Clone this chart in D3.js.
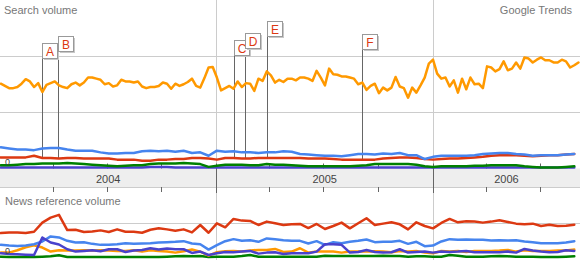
<!DOCTYPE html>
<html>
<head>
<meta charset="utf-8">
<script src="https://cdn.jsdelivr.net/npm/d3@7"></script>
<style>
body { margin: 0; background: #fff; }
svg { display: block; font-family: Arial, "Liberation Sans", sans-serif; }
</style>
</head>
<body>
<div></div>
<script>
// weekly points start on this Sunday; secondary series are read every 2 weeks
var weekStart = "2004-01-04";

var searchOrange = [
  1.51,1.47,1.43,1.43,1.45,1.51,1.59,1.55,1.45,1.52,
  1.36,1.49,1.52,1.55,1.48,1.45,1.43,1.50,1.53,1.48,
  1.53,1.62,1.62,1.60,1.58,1.50,1.52,1.46,1.48,1.58,
  1.55,1.55,1.53,1.55,1.46,1.43,1.45,1.45,1.47,1.53,
  1.51,1.42,1.51,1.47,1.50,1.54,1.60,1.47,1.44,1.61,
  1.80,1.81,1.62,1.39,1.43,1.47,1.42,1.55,1.45,1.52,
  1.51,1.38,1.60,1.56,1.73,1.66,1.53,1.58,1.54,1.60,
  1.60,1.57,1.62,1.62,1.60,1.56,1.74,1.62,1.48,1.78,
  1.68,1.67,1.64,1.64,1.62,1.60,1.50,1.53,1.40,1.47,
  1.51,1.34,1.44,1.39,1.44,1.63,1.46,1.43,1.26,1.44,
  1.35,1.48,1.62,1.87,1.94,1.69,1.60,1.62,1.46,1.57,
  1.35,1.60,1.41,1.62,1.50,1.51,1.43,1.82,1.80,1.73,
  1.77,1.91,1.75,1.78,1.89,1.78,1.98,1.96,1.89,1.94,
  1.98,1.93,1.93,1.89,1.89,1.94,1.91,1.80,1.84,1.89
];
var searchBlue = [
  0.37,0.35,0.33,0.33,0.32,0.35,0.36,0.36,0.33,0.31,
  0.31,0.31,0.28,0.26,0.26,0.27,0.27,0.30,0.31,0.30,
  0.31,0.29,0.31,0.27,0.28,0.22,0.31,0.29,0.30,0.28,
  0.28,0.27,0.28,0.28,0.30,0.29,0.25,0.24,0.23,0.22,
  0.22,0.21,0.23,0.25,0.25,0.24,0.26,0.25,0.27,0.23,
  0.23,0.16,0.20,0.22,0.22,0.22,0.22,0.23,0.25,0.26,
  0.27,0.27,0.25,0.24,0.22,0.23,0.23,0.23,0.24,0.25
];
var searchRed = [
  0.19,0.19,0.19,0.19,0.22,0.18,0.18,0.17,0.18,0.18,
  0.17,0.17,0.17,0.17,0.15,0.15,0.15,0.13,0.13,0.15,
  0.15,0.16,0.16,0.18,0.18,0.17,0.15,0.18,0.18,0.17,
  0.17,0.18,0.18,0.18,0.18,0.18,0.18,0.17,0.17,0.17,
  0.16,0.15,0.15,0.15,0.15,0.15,0.17,0.18,0.19,0.19,
  0.18,0.16,0.15,0.16,0.17,0.17,0.18,0.19,0.20,0.22,
  0.23,0.23,0.23,0.22,0.21,0.22,0.23,0.23,0.24,0.25
];
var searchGreen = [
  0.05,0.05,0.06,0.07,0.07,0.08,0.08,0.08,0.09,0.08,
  0.07,0.06,0.05,0.04,0.03,0.04,0.05,0.05,0.07,0.08,
  0.08,0.08,0.09,0.08,0.07,0.02,0.04,0.06,0.06,0.06,
  0.05,0.05,0.07,0.06,0.06,0.05,0.04,0.03,0.03,0.03,
  0.03,0.03,0.03,0.04,0.05,0.07,0.07,0.07,0.07,0.07,
  0.06,0.03,0.02,0.03,0.03,0.03,0.03,0.04,0.04,0.05,
  0.05,0.05,0.05,0.03,0.02,0.01,0.01,0.01,0.02,0.03
];
var searchPurple = [
  0.01,0.01,0.01,0.01,0.01,0.01,0.01,0.01,0.01,0.01,
  0.01,0.01,0.01,0.01,0.01,0.01,0.01,0.01,0.02,0.02,
  0.02,0.01,0.01,0.01,0.01,0.01,0.01,0.01,0.01,0.01,
  0.01,0.01,0.01,0.01,0.01,0.01,0.01,0.01,0.01,0.01,
  0.01,0.01,0.01,0.01,0.01,0.01,0.01,0.01,0.01,0.01,
  0.01,0.01,0.01,0.01,0.01,0.01,0.01,0.01,0.01,0.01,
  0.01,0.01,0.01,0.01,0.01,0.01,0.01,0.01,0.01,0.01
];

var newsRed = [
  0.71,0.73,0.73,0.71,0.75,1.02,1.17,1.25,0.80,0.81,
  0.74,0.76,0.79,0.74,0.82,0.75,0.75,0.72,0.81,0.85,
  0.82,0.78,0.82,0.73,0.95,0.72,1.00,0.88,1.13,1.08,
  1.07,0.95,1.05,1.00,0.95,0.97,0.98,0.86,0.98,0.83,
  0.92,1.02,0.85,1.00,1.15,0.95,0.99,1.03,0.97,0.82,
  1.03,0.92,0.85,1.01,1.13,1.03,1.06,1.05,1.02,1.05,
  1.09,1.04,0.99,0.97,0.99,0.92,0.96,0.92,0.93,0.96
];
var newsBlue = [
  0.36,0.34,0.33,0.34,0.38,0.46,0.61,0.58,0.48,0.43,
  0.44,0.39,0.36,0.36,0.38,0.41,0.39,0.40,0.41,0.43,
  0.44,0.45,0.47,0.40,0.38,0.22,0.35,0.47,0.53,0.48,
  0.50,0.45,0.55,0.53,0.50,0.48,0.48,0.40,0.47,0.36,
  0.44,0.41,0.45,0.48,0.52,0.44,0.45,0.45,0.48,0.39,
  0.45,0.32,0.34,0.46,0.53,0.51,0.52,0.51,0.51,0.49,
  0.50,0.49,0.50,0.46,0.44,0.41,0.41,0.41,0.43,0.47
];
var newsOrange = [
  0.13,0.13,0.20,0.29,0.35,0.28,0.16,0.20,0.19,0.19,
  0.20,0.19,0.20,0.19,0.18,0.18,0.20,0.16,0.20,0.18,
  0.16,0.13,0.17,0.22,0.16,0.04,0.14,0.17,0.18,0.16,
  0.19,0.21,0.21,0.24,0.15,0.16,0.26,0.13,0.16,0.16,
  0.16,0.13,0.16,0.16,0.16,0.17,0.16,0.14,0.18,0.16,
  0.18,0.13,0.11,0.18,0.16,0.18,0.15,0.18,0.18,0.18,
  0.19,0.21,0.16,0.20,0.18,0.18,0.18,0.19,0.19,0.22
];
var newsPurple = [
  0.11,0.09,0.08,0.07,0.06,0.58,0.43,0.37,0.23,0.16,
  0.18,0.20,0.17,0.23,0.23,0.15,0.19,0.21,0.26,0.22,
  0.25,0.23,0.23,0.12,0.16,0.06,0.11,0.15,0.14,0.16,
  0.18,0.10,0.13,0.14,0.09,0.11,0.11,0.11,0.16,0.38,
  0.38,0.36,0.13,0.15,0.21,0.15,0.13,0.14,0.23,0.13,
  0.15,0.16,0.13,0.16,0.15,0.16,0.18,0.14,0.14,0.14,
  0.14,0.16,0.13,0.24,0.19,0.16,0.14,0.15,0.20,0.18
];
var newsGreen = [
  0.01,0.00,0.00,0.00,0.00,0.01,0.02,0.05,0.00,0.00,
  0.00,0.00,0.00,0.00,0.00,0.00,0.00,0.00,0.00,0.00,
  0.01,0.02,0.03,0.02,0.03,0.00,0.01,0.01,0.01,0.03,
  0.06,0.01,0.01,0.01,0.01,0.01,0.01,0.01,0.01,0.04,
  0.03,0.03,0.03,0.03,0.03,0.03,0.04,0.03,0.03,0.01,
  0.02,0.02,0.01,0.01,0.06,0.04,0.01,0.01,0.01,0.02,
  0.03,0.02,0.01,0.01,0.01,0.00,0.00,0.00,0.01,0.02
];

var flagLetters = ["A", "B", "C", "D", "E", "F"];
var flagDates = ["2004-03-14", "2004-04-10", "2005-01-31", "2005-02-20", "2005-03-28", "2005-09-05"];
var flagLevels = [2.23, 2.36, 2.29, 2.41, 2.63, 2.40];

var colors = { blue: "#4684ee", red: "#dc3912", orange: "#ff9900", green: "#008000", purple: "#4942cc" };

var width = 580, height = 260;
var bandTop = 168.5, bandBottom = 187;

var parse = d3.timeParse("%Y-%m-%d");
var start = parse(weekStart);
var weekly = searchOrange.map(function(d, i) { return d3.timeWeek.offset(start, i); });
var biweekly = searchBlue.map(function(d, i) { return d3.timeWeek.offset(start, 2 * i); });

var x = d3.scaleTime()
    .domain([parse("2004-01-01"), parse("2006-01-01")])
    .range([-1, 433]);
var yTop = d3.scaleLinear().domain([0, 3]).range([168, 0.5]);
var yNews = d3.scaleLinear().domain([0, 2]).range([257, 189.6]);

var crisp = function(v) { return Math.floor(v) + 0.5; };

var svg = d3.select("div").append("svg")
    .attr("width", width)
    .attr("height", height);

svg.append("rect").attr("width", width).attr("height", height).attr("fill", "#fff");

// horizontal grid
svg.selectAll(".gtop").data([1, 2]).enter().append("line")
    .attr("x1", 0).attr("x2", width)
    .attr("y1", function(d) { return crisp(yTop(d)); })
    .attr("y2", function(d) { return crisp(yTop(d)); })
    .attr("stroke", "#cccccc");
svg.selectAll(".gnews").data([1]).enter().append("line")
    .attr("x1", 0).attr("x2", width)
    .attr("y1", function(d) { return crisp(yNews(d)); })
    .attr("y2", function(d) { return crisp(yNews(d)); })
    .attr("stroke", "#cccccc");

// date band
svg.append("rect")
    .attr("x", 0).attr("y", bandTop)
    .attr("width", width).attr("height", bandBottom - bandTop)
    .attr("fill", "#eeeeee");
svg.append("line")
    .attr("x1", 0).attr("x2", width)
    .attr("y1", bandBottom + 0.5).attr("y2", bandBottom + 0.5)
    .attr("stroke", "#cccccc");

var years = d3.timeYear.range(parse("2004-01-01"), parse("2007-01-01"));
var quarters = d3.timeMonth.every(3).range(parse("2004-01-01"), parse("2006-12-31"))
    .filter(function(d) { return x(d) >= 0 && x(d) <= width; });

svg.selectAll(".yline").data(years.filter(function(d) { return x(d) > 0; })).enter().append("line")
    .attr("x1", function(d) { return crisp(x(d)); })
    .attr("x2", function(d) { return crisp(x(d)); })
    .attr("y1", 0).attr("y2", height)
    .attr("stroke", "#cccccc");

quarters.forEach(function(q) {
  var xq = crisp(x(q));
  if (q.getMonth() === 0) {
    svg.append("line").attr("x1", xq).attr("x2", xq)
        .attr("y1", bandTop - 5).attr("y2", bandBottom + 6)
        .attr("stroke", "#666");
  } else {
    svg.append("line").attr("x1", xq).attr("x2", xq)
        .attr("y1", bandTop - 5).attr("y2", bandTop)
        .attr("stroke", "#666");
    svg.append("line").attr("x1", xq).attr("x2", xq)
        .attr("y1", bandBottom).attr("y2", bandBottom + 5)
        .attr("stroke", "#666");
  }
});

svg.selectAll(".ylabel").data(years).enter().append("text")
    .attr("x", function(d) {
      var x0 = Math.max(0, x(d));
      var x1 = Math.min(width, x(d3.timeYear.offset(d, 1)));
      return (x0 + x1) / 2;
    })
    .attr("y", 183)
    .attr("text-anchor", "middle")
    .attr("font-size", "11px")
    .attr("fill", "#444")
    .text(function(d) { return d3.timeFormat("%Y")(d); });

// flags
var bisect = d3.bisector(function(d) { return d; }).left;
var flags = flagLetters.map(function(letter, i) {
  var date = parse(flagDates[i]);
  var k = Math.min(biweekly.length - 1, bisect(biweekly, date));
  return { letter: letter, date: date, level: flagLevels[i], end: searchRed[k] };
});

svg.selectAll(".pole").data(flags).enter().append("line")
    .attr("x1", function(d) { return crisp(x(d.date)); })
    .attr("x2", function(d) { return crisp(x(d.date)); })
    .attr("y1", function(d) { return yTop(d.level) + 15; })
    .attr("y2", function(d) { return yTop(d.end); })
    .attr("stroke", "#666");

// series lines
var topLine = function(dates) {
  return d3.line()
      .x(function(d, i) { return x(dates[i]); })
      .y(function(d) { return yTop(d); });
};
var newsLine = d3.line()
    .x(function(d, i) { return x(biweekly[i]); })
    .y(function(d) { return yNews(d); });

var drawLine = function(path, values, color) {
  svg.append("path")
      .datum(values)
      .attr("d", path)
      .attr("fill", "none")
      .attr("stroke", color)
      .attr("stroke-width", 2.5)
      .attr("stroke-linejoin", "round")
      .attr("stroke-linecap", "round");
};

drawLine(topLine(biweekly), searchPurple, colors.purple);
drawLine(topLine(biweekly), searchGreen, colors.green);
drawLine(topLine(biweekly), searchRed, colors.red);
drawLine(topLine(biweekly), searchBlue, colors.blue);
drawLine(topLine(weekly), searchOrange, colors.orange);

drawLine(newsLine, newsGreen, colors.green);
drawLine(newsLine, newsOrange, colors.orange);
drawLine(newsLine, newsBlue, colors.blue);
drawLine(newsLine, newsPurple, colors.purple);
drawLine(newsLine, newsRed, colors.red);

var flagBox = svg.selectAll(".flag").data(flags).enter().append("g")
    .attr("transform", function(d) {
      return "translate(" + crisp(x(d.date)) + "," + (Math.round(yTop(d.level)) + 0.5) + ")";
    });
flagBox.append("rect")
    .attr("x", 1.5).attr("y", 1.5).attr("width", 15).attr("height", 15)
    .attr("fill", "#c8c8c8");
flagBox.append("rect")
    .attr("width", 15).attr("height", 15)
    .attr("fill", "#fff").attr("stroke", "#999");
flagBox.append("text")
    .attr("x", 7.5).attr("y", 12)
    .attr("text-anchor", "middle")
    .attr("font-size", "12px")
    .attr("fill", "#dc3912")
    .text(function(d) { return d.letter; });

// labels
svg.append("text").attr("x", 4).attr("y", 14)
    .attr("font-size", "11px").attr("fill", "#777").text("Search volume");
svg.append("text").attr("x", 572).attr("y", 14).attr("text-anchor", "end")
    .attr("font-size", "11px").attr("fill", "#777").text("Google Trends");
svg.append("text").attr("x", 5).attr("y", 205)
    .attr("font-size", "11px").attr("fill", "#777").text("News reference volume");
svg.append("text").attr("x", 5).attr("y", 165)
    .attr("font-size", "9px").attr("fill", "#444").text("0");
svg.append("text").attr("x", 5).attr("y", 254)
    .attr("font-size", "9px").attr("fill", "#444").text("0");
</script>
</body>
</html>
